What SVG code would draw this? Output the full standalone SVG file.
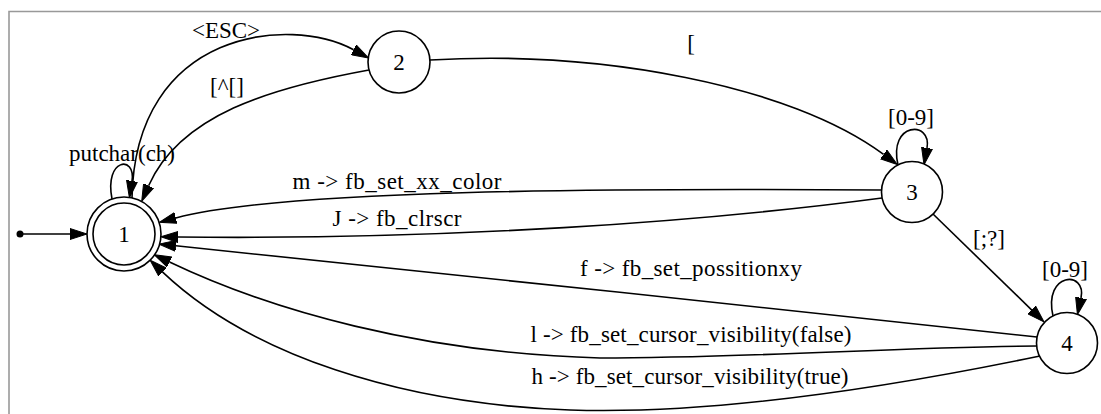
<svg xmlns="http://www.w3.org/2000/svg" width="1101" height="414" viewBox="0 0 1101 414">
<style>
.e{fill:none;stroke:#000;stroke-width:1.6}
.n{fill:#fff;stroke:#000;stroke-width:1.6}
.b{stroke:#999;stroke-width:1.6;fill:none}
</style>
<defs>
<marker id="ah" markerUnits="userSpaceOnUse" markerWidth="18" markerHeight="12" refX="0" refY="6" orient="auto" viewBox="0 0 18 12">
<path d="M0,0.5 L17,6 L0,11.5 z" fill="#000" stroke="#000" stroke-width="1"/>
</marker>
</defs>
<rect width="1101" height="414" fill="#fff"/>
<path class="b" d="M9,414 L9,11.5 L1101,11.5"/>
<g font-family="'Liberation Serif', 'Times New Roman', 'DejaVu Serif', serif" font-size="23" text-anchor="middle" fill="#000">
<g id="edges">
<g id="e-init"><circle cx="20" cy="234" r="3.5" fill="#000"/><path class="e" d="M20,234 L70,234" marker-end="url(#ah)"/></g>
<g id="e-1-1"><path class="e" d="M112,199 C104,158 136,155 132,181" marker-end="url(#ah)"/><text x="122" y="161">putchar(ch)</text></g>
<g id="e-1-2"><path class="e" d="M132,198 C135,30 290,15 353.6,49.8" marker-end="url(#ah)"/><text x="226" y="38">&lt;ESC&gt;</text></g>
<g id="e-2-1"><path class="e" d="M369,70 C270,88 180,115 148.6,185.8" marker-end="url(#ah)"/><text x="227" y="94">[^[]</text></g>
<g id="e-2-3"><path class="e" d="M430,60 C600,50 790,85 883.6,154.4" marker-end="url(#ah)"/><text x="691" y="51">[</text></g>
<g id="e-3-3"><path class="e" d="M898,165 C888,122 932,120 927,148" marker-end="url(#ah)"/><text x="911" y="125">[0-9]</text></g>
<g id="e-3-1m"><path class="e" d="M882,190 C600,188 280,190 175.8,217.9" marker-end="url(#ah)"/><text x="397" y="189" textLength="209" lengthAdjust="spacing">m -&gt; fb_set_xx_color</text></g>
<g id="e-3-1J"><path class="e" d="M882,198 C700,222 450,240 178,237" marker-end="url(#ah)"/><text x="397" y="226" textLength="129" lengthAdjust="spacing">J -&gt; fb_clrscr</text></g>
<g id="e-3-4"><path class="e" d="M933,214 L1031.8,310.1" marker-end="url(#ah)"/><text x="989" y="246">[;?]</text></g>
<g id="e-4-4"><path class="e" d="M1053,316 C1043,272 1087,270 1081,298" marker-end="url(#ah)"/><text x="1065" y="277">[0-9]</text></g>
<g id="e-4-1f"><path class="e" d="M1037,337 C800,312 400,268 175.9,245.8" marker-end="url(#ah)"/><text x="691" y="276" textLength="222" lengthAdjust="spacing">f -&gt; fb_set_possitionxy</text></g>
<g id="e-4-1l"><path class="e" d="M1037,346 C900,347 750,358 600,358 C420,353 270,310 169.5,262" marker-end="url(#ah)"/><text x="691" y="342" textLength="321" lengthAdjust="spacing">l -&gt; fb_set_cursor_visibility(false)</text></g>
<g id="e-4-1h"><path class="e" d="M1040,356 C900,385 720,415 570,410 C400,404 250,355 162.4,271.9" marker-end="url(#ah)"/><text x="690" y="384" textLength="317" lengthAdjust="spacing">h -&gt; fb_set_cursor_visibility(true)</text></g>
</g>
<g id="node1"><circle class="n" cx="124" cy="234" r="37"/><circle class="n" cx="124" cy="234" r="31"/><text x="124" y="242">1</text></g>
<g id="node2"><circle class="n" cx="399" cy="62" r="31"/><text x="399" y="70">2</text></g>
<g id="node3"><circle class="n" cx="912" cy="192" r="30.5"/><text x="912" y="200">3</text></g>
<g id="node4"><circle class="n" cx="1067" cy="343" r="30.5"/><text x="1067" y="351">4</text></g>
</g>
</svg>
